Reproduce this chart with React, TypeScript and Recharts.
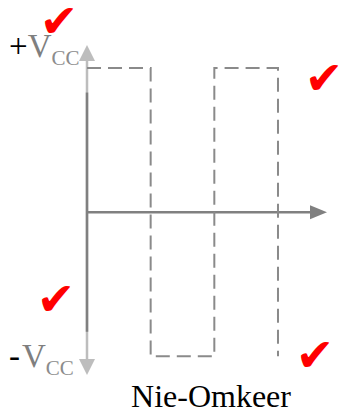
import React from 'react';
import { LineChart, Line, XAxis, YAxis, ReferenceLine, ReferenceDot, Customized } from 'recharts';

// square wave (time in half-periods, level in units of Vcc)
const timeSteps = [0, 1, 1, 2, 2, 3, 3];
const levels = [1, 1, -1, -1, 1, 1, -1];
const xDomain: [number, number] = [0, 3.77];
const yDomain: [number, number] = [-1.13, 1.16];
const topLabel = ['+', 'V', 'CC'];
const bottomLabel = ['-', 'V', 'CC'];
const title = 'Nie-Omkeer';
const checkMark = '\u2714';

const data = timeSteps.map((t, i) => ({ t, v: levels[i] }));

const AXIS_DARK = '#808080';
const AXIS_LIGHT = '#bdbdbd';

const upArrow = (color: string) => (p: any) => (
  <polygon points={`${p.cx},${p.cy} ${p.cx - 8},${p.cy + 16} ${p.cx + 8},${p.cy + 16}`} fill={color} />
);
const downArrow = (color: string) => (p: any) => (
  <polygon points={`${p.cx},${p.cy} ${p.cx - 8},${p.cy - 16} ${p.cx + 8},${p.cy - 16}`} fill={color} />
);
const rightArrow = (color: string) => (p: any) => (
  <polygon points={`${p.cx},${p.cy} ${p.cx - 17},${p.cy - 7} ${p.cx - 17},${p.cy + 7}`} fill={color} />
);

const Labels = () => (
  <g fontFamily="'Liberation Serif', 'Times New Roman', serif">
    <text x={9} y={57} fontSize={33}>
      <tspan fill="#000">{topLabel[0]}</tspan>
      <tspan fill="#7f7f7f">{topLabel[1]}</tspan>
      <tspan fill="#8c8c8c" fontSize={21} dy={8}>{topLabel[2]}</tspan>
    </text>
    <text x={9} y={367} fontSize={33}>
      <tspan fill="#000">{bottomLabel[0]}</tspan>
      <tspan fill="#7f7f7f" dx={2}>{bottomLabel[1]}</tspan>
      <tspan fill="#8c8c8c" fontSize={21} dy={8}>{bottomLabel[2]}</tspan>
    </text>
    <text x={211} y={407} fontSize={32} textAnchor="middle" fill="#000">{title}</text>
    <g fontFamily="'DejaVu Sans', sans-serif" fill="#ff0000" fontSize={46} textAnchor="middle">
      <text x={59} y={37}>{checkMark}</text>
      <text x={324} y={94}>{checkMark}</text>
      <text x={56} y={315}>{checkMark}</text>
      <text x={315} y={371}>{checkMark}</text>
    </g>
  </g>
);

export default function App() {
  return (
    <div style={{ position: 'absolute', left: 0, top: 0, width: 339, height: 416, background: '#fff' }}>
      <LineChart width={339} height={416} data={data} margin={{ top: 45, right: 12, left: 87, bottom: 41 }}>
        <XAxis type="number" dataKey="t" domain={xDomain} hide allowDataOverflow />
        <YAxis type="number" domain={yDomain} hide allowDataOverflow />
        {/* vertical axis: light full-length, dark middle */}
        <ReferenceLine segment={[{ x: 0, y: 1.05 }, { x: 0, y: -1.02 }]} stroke={AXIS_LIGHT} strokeWidth={2.5} ifOverflow="visible" />
        <ReferenceLine segment={[{ x: 0, y: 0.83 }, { x: 0, y: -0.83 }]} stroke={AXIS_DARK} strokeWidth={2.5} ifOverflow="visible" />
        {/* horizontal axis */}
        <ReferenceLine segment={[{ x: 0, y: 0 }, { x: 3.6, y: 0 }]} stroke={AXIS_DARK} strokeWidth={2.5} ifOverflow="visible" />
        <Line
          type="linear"
          dataKey="v"
          stroke="#8a8a8a"
          strokeWidth={2}
          strokeDasharray="14 7"
          dot={false}
          activeDot={false}
          isAnimationActive={false}
        />
        <ReferenceDot x={0} y={1.16} r={0} ifOverflow="visible" shape={upArrow(AXIS_LIGHT)} />
        <ReferenceDot x={0} y={-1.13} r={0} ifOverflow="visible" shape={downArrow(AXIS_LIGHT)} />
        <ReferenceDot x={3.77} y={0} r={0} ifOverflow="visible" shape={rightArrow(AXIS_DARK)} />
        <Customized component={Labels} />
      </LineChart>
    </div>
  );
}
